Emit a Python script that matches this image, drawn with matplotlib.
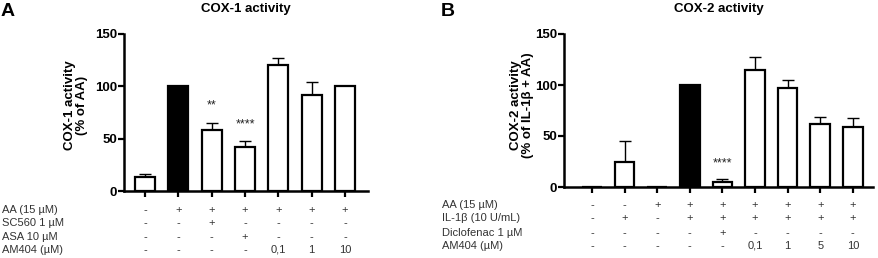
import numpy as np
import matplotlib.pyplot as plt
from matplotlib.transforms import blended_transform_factory

# panel A data
a_vals = [13, 100, 58, 42, 120, 92, 100]
a_err = [3, 0, 7, 6, 7, 12, 0]
a_fill = ['white', 'black', 'white', 'white', 'white', 'white', 'white']
a_stars = ['', '', '**', '****', '', '', '']
a_rows = ['AA (15 µM)', 'SC560 1 µM', 'ASA 10 µM', 'AM404 (µM)']
a_table = [['-', '+', '+', '+', '+', '+', '+'],
           ['-', '-', '+', '-', '-', '-', '-'],
           ['-', '-', '-', '+', '-', '-', '-'],
           ['-', '-', '-', '-', '0,1', '1', '10']]

# panel B data
b_vals = [0, 25, 0, 100, 5, 115, 97, 62, 59]
b_err = [0, 20, 0, 0, 3, 12, 8, 7, 9]
b_fill = ['white', 'white', 'white', 'black', 'white', 'white', 'white', 'white', 'white']
b_stars = ['', '', '', '', '****', '', '', '', '']
b_rows = ['AA (15 µM)', 'IL-1β (10 U/mL)', 'Diclofenac 1 µM', 'AM404 (µM)']
b_table = [['-', '-', '+', '+', '+', '+', '+', '+', '+'],
           ['-', '+', '-', '+', '+', '+', '+', '+', '+'],
           ['-', '-', '-', '-', '+', '-', '-', '-', '-'],
           ['-', '-', '-', '-', '-', '0,1', '1', '5', '10']]

W, H = 879, 258
fig = plt.figure(figsize=(W / 100, H / 100), dpi=100)
plt.rcParams['font.family'] = ['Liberation Sans', 'DejaVu Sans']


def panel(rect, vals, err, fill, stars, rows, table, xlim, row_y, title, ylabel, letter, lx, ylab_x, star_y):
    ax = fig.add_axes(rect)
    x = np.arange(len(vals))
    ax.bar(x, vals, width=0.6, color=fill, edgecolor='black', linewidth=1.6, zorder=3)
    ax.errorbar(x, vals, yerr=[np.zeros(len(err)), err], fmt='none', ecolor='black',
                elinewidth=1.0, capsize=4.5, capthick=1.0, zorder=2)
    for xi, s, yv in zip(x, stars, star_y):
        if s:
            ax.text(xi, yv, s, ha='center', va='center', fontsize=9, color='#222222')
    ax.set_xlim(*xlim)
    ax.set_ylim(0, 150)
    ax.set_yticks([0, 50, 100, 150])
    ax.set_xticks(x)
    ax.set_xticklabels([])
    for side in ['top', 'right']:
        ax.spines[side].set_visible(False)
    for side in ['left', 'bottom']:
        ax.spines[side].set_linewidth(1.8)
    ax.tick_params(axis='both', width=1.6, length=4, direction='out')
    ax.tick_params(axis='y', labelsize=9.5, pad=1)
    for lab in ax.get_yticklabels():
        lab.set_fontweight('bold')
    tt = blended_transform_factory(ax.transAxes, fig.transFigure)
    ax.text(0.5, 1 - 9 / H, title, transform=tt, fontsize=9.5, fontweight='bold',
            ha='center', va='center')
    fig.text(ylab_x / W, 1 - 105 / H, ylabel, rotation=90, ha='center', va='center',
             fontsize=9.5, fontweight='bold', linespacing=1.1)
    fig.text(lx / W, 1 - 12 / H, letter, fontsize=14, fontweight='bold', ha='left', va='center')
    tr = blended_transform_factory(ax.transData, fig.transFigure)
    for r, (name, vals_r) in enumerate(zip(rows, table)):
        yy = 1 - row_y[r] / H
        fig.text((lx + 1) / W, yy, name, fontsize=8, color='#333333', ha='left', va='center')
        for xi, v in zip(x, vals_r):
            ax.text(xi, yy, v, transform=tr, fontsize=8, color='#333333', ha='center', va='center')
    return ax


panel([124 / W, 1 - 191 / H, (368 - 124) / W, (191 - 34) / H],
      a_vals, a_err, a_fill, a_stars, a_rows, a_table, (-0.63, 6.69),
      [210, 223, 237, 250], 'COX-1 activity', 'COX-1 activity\n(% of AA)', 'A', 1, 76,
      [0, 0, 82, 64, 0, 0, 0])

panel([564 / W, 1 - 187 / H, (873 - 564) / W, (187 - 34) / H],
      b_vals, b_err, b_fill, b_stars, b_rows, b_table, (-0.86, 8.62),
      [205, 218, 233, 246], 'COX-2 activity', 'COX-2 activity\n(% of IL-1β + AA)', 'B', 441, 522,
      [0, 0, 0, 0, 23, 0, 0, 0, 0])

fig.savefig('out.png', dpi=100)
